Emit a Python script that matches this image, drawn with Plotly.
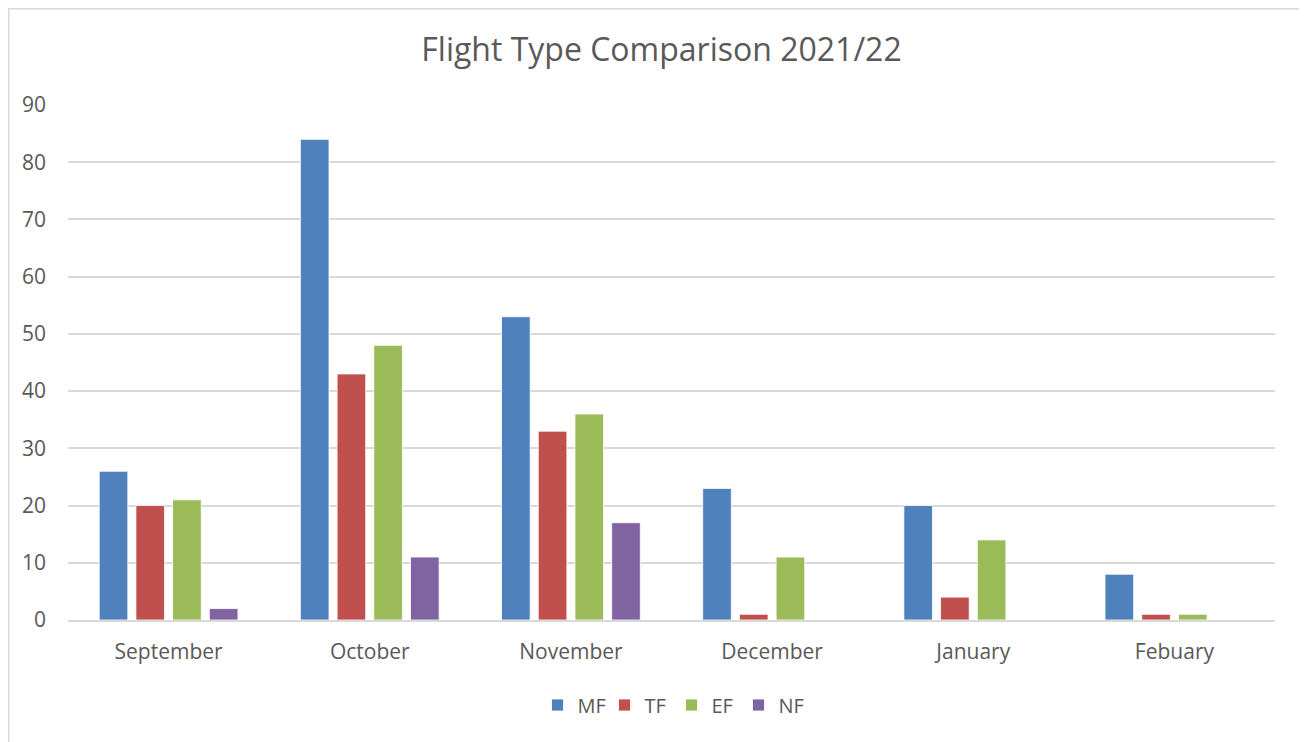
import plotly.graph_objects as go

months = ["September", "October", "November", "December", "January", "Febuary"]
mf = [26, 84, 53, 23, 20, 8]
tf = [20, 43, 33, 1, 4, 1]
ef = [21, 48, 36, 11, 14, 1]
nf = [2, 11, 17, 0, 0, 0]

series = [("MF", mf, "#4F81BD"), ("TF", tf, "#C0504D"),
          ("EF", ef, "#9BBB59"), ("NF", nf, "#8064A2")]

FONT = "'Open Sans', Lato, sans-serif"
GREY = "#595959"

fig = go.Figure()
for name, vals, col in series:
    fig.add_trace(go.Bar(
        x=months, y=vals, name=name,
        marker=dict(color=col, line=dict(color="rgba(255,255,255,0.8)", width=1)),
    ))

# page has an 8px body margin, so figure coords = screen coords - 8
OFF = 8
W, H = 1307, 742
L, T = 68 - OFF, 105 - OFF
R = W - (1275 - OFF)
B = H - (620 - OFF)
pw, ph = W - L - R, H - T - B


def px(x):
    return (x - OFF - L) / pw


def py(y):
    return (H - B - (y - OFF)) / ph


fig.update_layout(
    width=W, height=H,
    margin=dict(l=L, r=R, t=T, b=B),
    paper_bgcolor="white", plot_bgcolor="white",
    barmode="group", bargap=0.27, bargroupgap=0.22,
    font=dict(family=FONT, color=GREY, size=20),
    title=dict(text="Flight Type Comparison 2021/22", x=0.5, xanchor="center",
               y=1 - (50 - OFF) / H, yanchor="middle",
               font=dict(family=FONT, size=32, color=GREY)),
    legend=dict(orientation="h", x=0.5, xanchor="center", y=py(705), yanchor="middle",
                font=dict(size=20, color=GREY), itemwidth=30, entrywidth=22,
                traceorder="normal"),
    shapes=[dict(type="rect", xref="paper", yref="paper",
                 x0=px(OFF + 0.75), x1=px(1304), y0=py(760), y1=py(OFF + 0.75),
                 line=dict(color="#d9d9d9", width=1.5), fillcolor="rgba(0,0,0,0)",
                 layer="below")],
)
fig.update_yaxes(range=[0, 90], dtick=10, showgrid=True, gridcolor="#d9d9d9", gridwidth=1.5,
                 zeroline=False, showline=False, ticklabelstandoff=21,
                 tickfont=dict(size=21, color=GREY))
fig.update_xaxes(showline=True, linecolor="#d9d9d9", linewidth=1.5, ticks="",
                 ticklabelstandoff=12, tickfont=dict(size=21, color=GREY))

fig.write_html("out.html")
